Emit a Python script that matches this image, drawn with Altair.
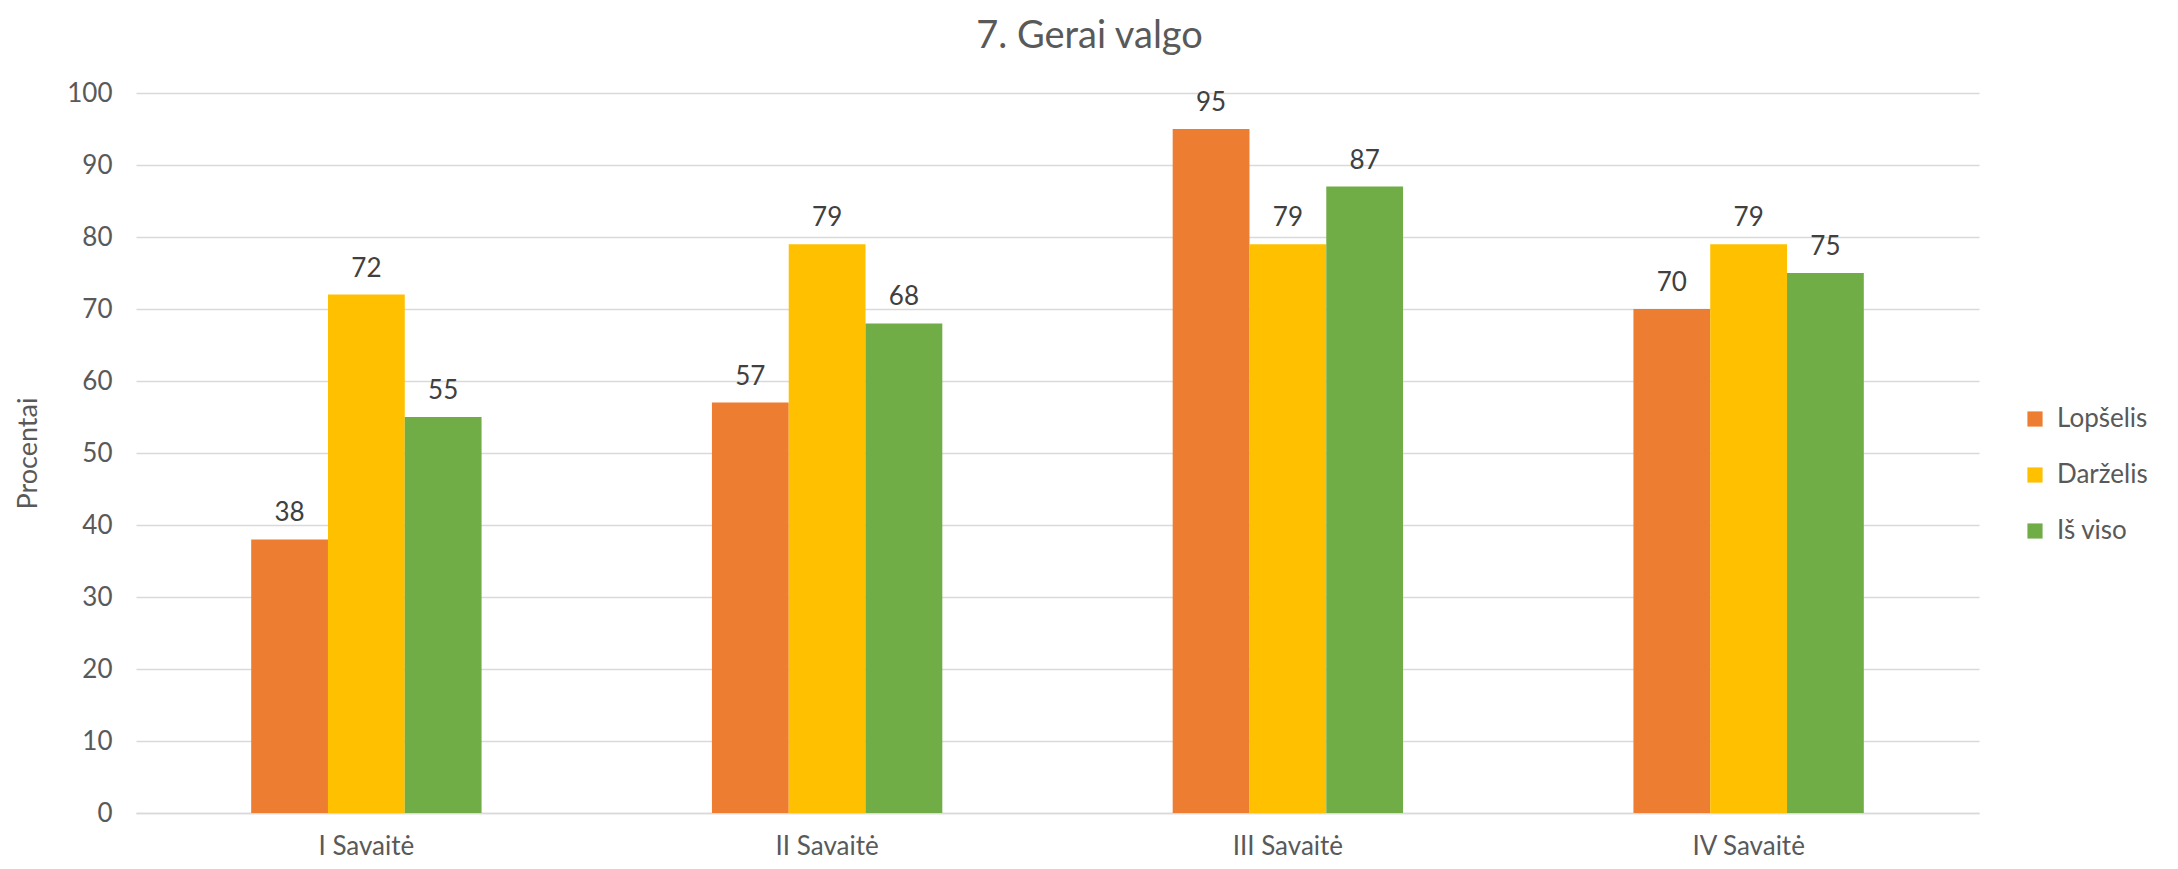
import altair as alt
import pandas as pd

weeks = ["I Savaitė", "II Savaitė", "III Savaitė", "IV Savaitė"]
series = ["Lopšelis", "Darželis", "Iš viso"]
lopselis = [38, 57, 95, 70]
darzelis = [72, 79, 79, 79]
is_viso = [55, 68, 87, 75]
colors = ["#ED7D31", "#FFC000", "#70AD47"]

rows = []
for s, vals in zip(series, [lopselis, darzelis, is_viso]):
    for w, v in zip(weeks, vals):
        rows.append({"week": w, "series": s, "value": v})
df = pd.DataFrame(rows)

FONT = "Lato"
TXT = "#595959"

x = alt.X("week:N", sort=weeks, title=None,
          scale=alt.Scale(paddingInner=0.5, paddingOuter=0.25),
          axis=alt.Axis(labelAngle=0, labelFontSize=26, labelColor=TXT, labelFont=FONT,
                        ticks=False, domainColor="#D9D9D9", domainWidth=1.5, labelPadding=20, grid=False))
xo = alt.XOffset("series:N", sort=series)
y = alt.Y("value:Q", title="Procentai",
          scale=alt.Scale(domain=[0, 100]),
          axis=alt.Axis(values=list(range(0, 101, 10)), labelFontSize=26, labelColor=TXT, labelFont=FONT,
                        ticks=False, domain=False, gridColor="#D9D9D9", gridWidth=1.5, labelPadding=24,
                        titleFontSize=27, titleFont=FONT, titleColor=TXT, titleFontWeight="normal",
                        titlePadding=24))
color = alt.Color("series:N", sort=series, scale=alt.Scale(domain=series, range=colors),
                  legend=alt.Legend(title=None, orient="none", legendX=1886, legendY=313,
                                    symbolType="square", symbolSize=230, symbolStrokeWidth=0,
                                    labelFontSize=26, labelFont=FONT, labelColor=TXT,
                                    rowPadding=30, labelOffset=9))

bars = alt.Chart(df).mark_bar().encode(x=x, xOffset=xo, y=y, color=color)
labels = alt.Chart(df).mark_text(baseline="bottom", dy=-13, fontSize=26, font=FONT, color="#404040").encode(
    x=x, xOffset=xo, y=y, text="value:Q")

chart = (bars + labels).properties(
    width=1843, height=720,
    title=alt.TitleParams("7. Gerai valgo", fontSize=38, font=FONT, color=TXT, fontWeight="normal",
                          anchor="middle", dx=32, offset=24),
    autosize=alt.AutoSizeParams(type="none"),
    padding={"left": 128, "top": 85, "right": 191, "bottom": 48},
).configure_view(stroke=None)

chart.save("out.html", embed_options={"renderer": "svg", "actions": False})
